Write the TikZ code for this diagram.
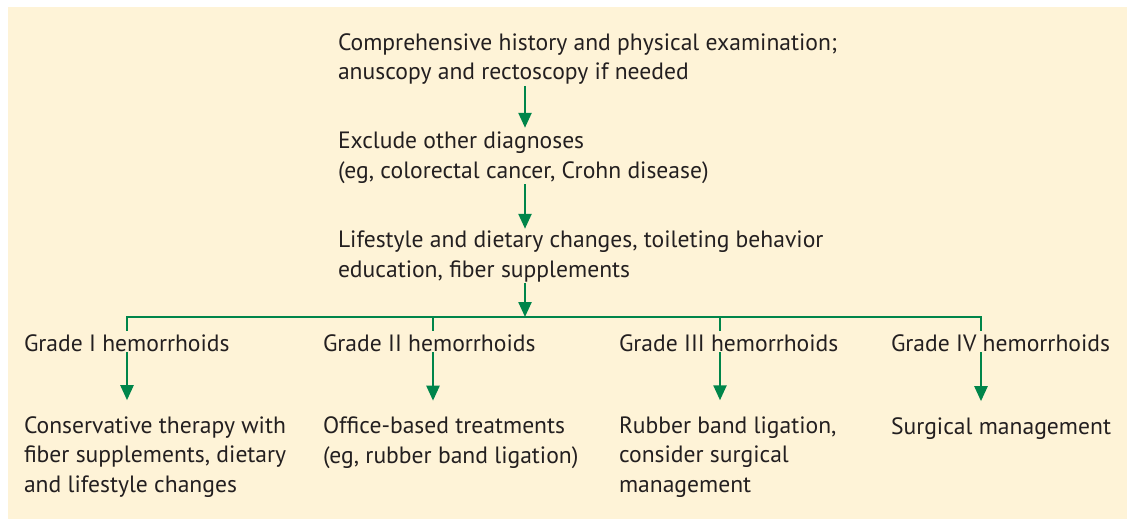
\documentclass[tikz,border=0pt]{standalone}
\usepackage{fontspec}
\setmainfont{PT Sans}
\usetikzlibrary{arrows.meta}
\definecolor{bg}{HTML}{FEF3D7}
\definecolor{grn}{HTML}{00854A}
\definecolor{txt}{HTML}{231F20}
\begin{document}
\begin{tikzpicture}[x=1pt,y=-1pt,
  lbl/.style={inner sep=0pt,outer sep=0pt,anchor=base west,align=left,text=txt,
    font=\fontsize{23.6}{29.5}\selectfont},
  conn/.style={draw=grn,line width=2.4pt},
  arr/.style={conn,-{Triangle[length=15pt,width=13pt]}}]
\useasboundingbox (0,0) rectangle (1127,519);
\fill[bg] (8,7) rectangle (1127,519);
% top column (anchored at the baseline of the last line)
\node[lbl] (t1) at (338,80) {Comprehensive history and physical examination;\\anuscopy and rectoscopy if needed};
\node[lbl] (t2) at (338,178) {Exclude other diagnoses\\(eg, colorectal cancer, Crohn disease)};
\node[lbl] (t3) at (338,277) {Lifestyle and dietary changes, toileting behavior\\education, fiber supplements};
\coordinate (sp) at (525,317);
% grades
\node[lbl] (g1) at (24,351) {Grade I hemorrhoids};
\node[lbl] (g2) at (323,351) {Grade II hemorrhoids};
\node[lbl] (g3) at (619,351) {Grade III hemorrhoids};
\node[lbl] (g4) at (891,351) {Grade IV hemorrhoids};
% treatments
\node[lbl] (r1) at (24,492) {Conservative therapy with\\fiber supplements, dietary\\and lifestyle changes};
\node[lbl] (r2) at (323,463) {Office-based treatments\\(eg, rubber band ligation)};
\node[lbl] (r3) at (619,492) {Rubber band ligation,\\consider surgical\\management};
\node[lbl] (r4) at (891,434) {Surgical management};
% columns on the bar
\coordinate (c1) at (127,317);
\coordinate (c2) at (433,317);
\coordinate (c3) at (720,317);
\coordinate (c4) at (981,317);
% connectors
\draw[arr] ([yshift=-1pt]t1.south -| sp) -- ([yshift=4pt]t2.north -| sp);
\draw[arr] ([yshift=-1pt]t2.south -| sp) -- ([yshift=2pt]t3.north -| sp);
\draw[arr] ([yshift=-1pt]t3.south -| sp) -- (sp);
\draw[conn,line cap=rect] (c1) -- (c4);
\draw[conn] (c1) -- ([yshift=3pt]g1.north -| c1);
\draw[conn] (c2) -- ([yshift=3pt]g2.north -| c2);
\draw[conn] (c3) -- ([yshift=3pt]g3.north -| c3);
\draw[conn] (c4) -- ([yshift=3pt]g4.north -| c4);
\draw[arr] ([yshift=-1pt]g1.south -| c1) -- ([yshift=16pt]r1.north -| c1);
\draw[arr] ([yshift=-1pt]g2.south -| c2) -- ([yshift=16pt]r2.north -| c2);
\draw[arr] ([yshift=-1pt]g3.south -| c3) -- ([yshift=16pt]r3.north -| c3);
\draw[arr] ([yshift=-1pt]g4.south -| c4) -- ([yshift=16pt]r4.north -| c4);
\end{tikzpicture}
\end{document}
